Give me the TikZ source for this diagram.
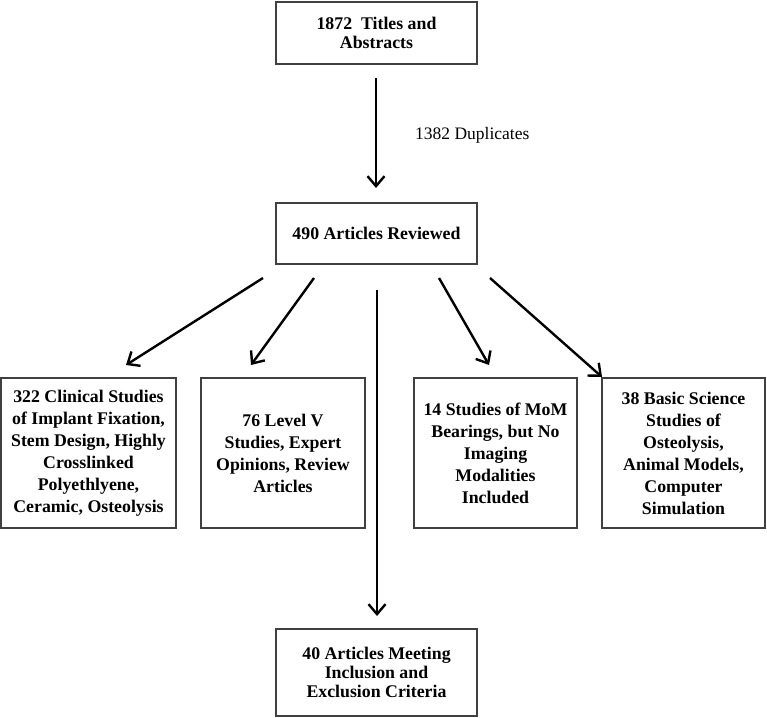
\documentclass[tikz,border=0pt]{standalone}
\usepackage{fontspec}
\setmainfont{Liberation Serif}
\usetikzlibrary{arrows.meta}
\begin{document}
\begin{tikzpicture}[x=1pt,y=-1pt,
  box/.style={draw=black!75,line width=1.1pt,inner sep=0pt,align=center,font=\bfseries\fontsize{17.8}{19}\selectfont},
  rowbox/.style={box,font=\bfseries\fontsize{17.8}{22}\selectfont},
  arr/.style={line width=2.4pt,-{Straight Barb[length=10pt,width=17pt,line width=2.4pt]}},
  lbl/.style={font=\fontsize{17.5}{19}\selectfont,inner sep=0pt}]
\useasboundingbox (0,0) rectangle (767,717);
\node[box,minimum width=201pt,minimum height=62pt] (top) at (376.5,33) {1872\ \ Titles and\\Abstracts};
\node[box,minimum width=201pt,minimum height=61pt] (rev) at (376.5,233.5) {490 Articles Reviewed};
\node[rowbox,minimum width=175pt,minimum height=150pt] (b1) at (88.5,453) {322 Clinical Studies\\of Implant Fixation,\\Stem Design, Highly\\Crosslinked\\Polyethlyene,\\Ceramic, Osteolysis};
\node[rowbox,minimum width=164pt,minimum height=150pt] (b2) at (283,453) {76 Level V\\Studies, Expert\\Opinions, Review\\Articles};
\node[rowbox,minimum width=163pt,minimum height=150pt] (b3) at (495.5,453) {14 Studies of MoM\\Bearings, but No\\Imaging\\Modalities\\Included};
\node[rowbox,minimum width=163pt,minimum height=150pt] (b4) at (683.5,453) {38 Basic Science\\Studies of\\Osteolysis,\\Animal Models,\\Computer\\Simulation};
\node[box,minimum width=201pt,minimum height=87pt] (fin) at (376.5,672.5) {40 Articles Meeting\\Inclusion and\\Exclusion Criteria};
\node[lbl,anchor=west] (dup) at (415,135) {1382 Duplicates};
\coordinate (s0) at (376,78);
\coordinate (e0) at (376,188);
\coordinate (s1) at (263,278);
\coordinate (e1) at (126,365);
\coordinate (s2) at (314,278);
\coordinate (e2) at (251,365);
\coordinate (s3) at (377,290);
\coordinate (e3) at (377,616);
\coordinate (s4) at (439,278);
\coordinate (e4) at (489,365);
\coordinate (s5) at (490,278);
\coordinate (e5) at (602,377);
\draw[arr] (s0) -- (e0);
\draw[arr] (s1) -- (e1);
\draw[arr] (s2) -- (e2);
\draw[arr] (s3) -- (e3);
\draw[arr] (s4) -- (e4);
\draw[arr] (s5) -- (e5);
\end{tikzpicture}
\end{document}
